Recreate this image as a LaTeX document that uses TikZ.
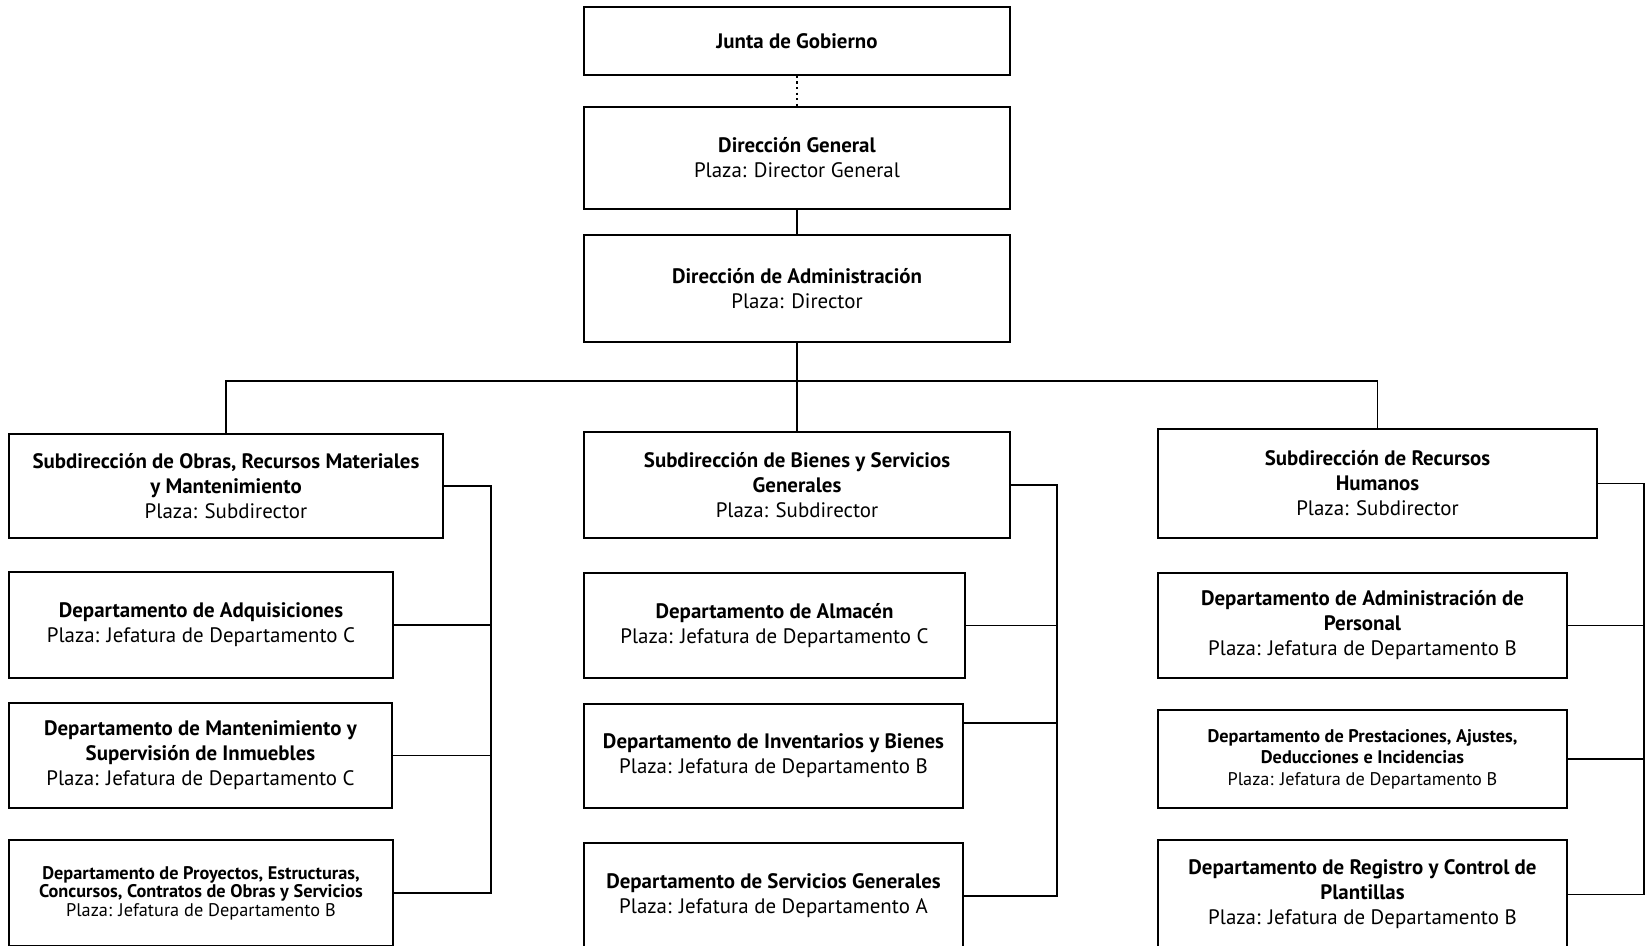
\documentclass[tikz,border=0pt]{standalone}
\usepackage{fontspec}
\setmainfont{PT Sans}
\usepackage{tikz}
\usetikzlibrary{calc}

\begin{document}
\begin{tikzpicture}[x=0.02cm, y=-0.02cm,
        unit/.style={draw, line width=1pt, inner sep=0pt, align=center,
                     font=\fontsize{11.9}{14.2}\selectfont},
        smallunit/.style={unit, font=\fontsize{10.4}{12.2}\selectfont},
        tinyunit/.style={unit, font=\fontsize{10.4}{10.5}\selectfont},
        link/.style={draw, line width=0.9pt}
      ]
        \useasboundingbox (0,0) rectangle (1649,946);
        \clip (0,0) rectangle (1649,946);
        % Top levels
        \node[unit, minimum width=8.52cm, minimum height=1.36cm] (junta) at (797,41)
          {\textbf{Junta de Gobierno}};
        \node[unit, minimum width=8.52cm, minimum height=2.04cm] (dg) at (797,158)
          {\textbf{Dirección General}\\Plaza: Director General};
        \node[unit, minimum width=8.52cm, minimum height=2.14cm] (adm) at (797,288.5)
          {\textbf{Dirección de Administración}\\Plaza: Director};
        % Subdirecciones
        \node[unit, minimum width=8.68cm, minimum height=2.08cm] (sub1) at (226,486)
          {\textbf{Subdirección de Obras, Recursos Materiales}\\\textbf{y Mantenimiento}\\Plaza: Subdirector};
        \node[unit, minimum width=8.52cm, minimum height=2.12cm] (sub2) at (797,485)
          {\textbf{Subdirección de Bienes y Servicios}\\\textbf{Generales}\\Plaza: Subdirector};
        \node[unit, minimum width=8.78cm, minimum height=2.18cm] (sub3) at (1377.5,483.5)
          {\textbf{Subdirección de Recursos}\\\textbf{Humanos}\\Plaza: Subdirector};
        % Departamentos (left)
        \node[unit, minimum width=7.68cm, minimum height=2.12cm] (adq) at (201,625)
          {\textbf{Departamento de Adquisiciones}\\Plaza: Jefatura de Departamento C};
        \node[unit, minimum width=7.66cm, minimum height=2.10cm] (mant) at (200.5,755.5)
          {\textbf{Departamento de Mantenimiento y}\\\textbf{Supervisión de Inmuebles}\\Plaza: Jefatura de Departamento C};
        \node[tinyunit, minimum width=7.68cm, minimum height=2.12cm] (proy) at (201,893)
          {\textbf{Departamento de Proyectos, Estructuras,}\\\textbf{Concursos, Contratos de Obras y Servicios}\\Plaza: Jefatura de Departamento B};
        % Departamentos (middle)
        \node[unit, minimum width=7.62cm, minimum height=2.10cm] (alm) at (774.5,625.5)
          {\textbf{Departamento de Almacén}\\Plaza: Jefatura de Departamento C};
        \node[unit, minimum width=7.58cm, minimum height=2.08cm] (inv) at (773.5,756)
          {\textbf{Departamento de Inventarios y Bienes}\\Plaza: Jefatura de Departamento B};
        \node[unit, minimum width=7.58cm, minimum height=2.12cm] (serv) at (773.5,896)
          {\textbf{Departamento de Servicios Generales}\\Plaza: Jefatura de Departamento A};
        % Departamentos (right)
        \node[unit, minimum width=8.18cm, minimum height=2.10cm] (per) at (1362.5,625.5)
          {\textbf{Departamento de Administración de}\\\textbf{Personal}\\Plaza: Jefatura de Departamento B};
        \node[smallunit, minimum width=8.18cm, minimum height=1.96cm] (pres) at (1362.5,759)
          {\textbf{Departamento de Prestaciones, Ajustes,}\\\textbf{Deducciones e Incidencias}\\Plaza: Jefatura de Departamento B};
        \node[unit, minimum width=8.18cm, minimum height=2.18cm] (reg) at (1362.5,894.5)
          {\textbf{Departamento de Registro y Control de}\\\textbf{Plantillas}\\Plaza: Jefatura de Departamento B};
        % Helper coordinates
        \coordinate (bus) at (797,381);
        \coordinate (spL) at (491,0);
        \coordinate (spM) at (1057,0);
        \coordinate (spR) at (1644,0);
        % Top connections
        \draw[link, line width=1.2pt, dotted] (junta) -- (dg);
        \draw[link] (dg) -- (adm);
        \draw[link] (adm) -- (bus);
        \draw[link] (sub1.north) |- (bus) -| (sub3.north);
        \draw[link] (bus) -- (sub2);
        % Left branch
        \draw[link] (sub1.east) -| (spL |- proy.east) -- (proy.east);
        \draw[link] (adq.east) -- (adq.east -| spL);
        \draw[link] (mant.east) -- (mant.east -| spL);
        % Middle branch
        \draw[link] (sub2.east) -| (spM |- serv.east) -- (serv.east);
        \draw[link] (alm.east) -- (alm.east -| spM);
        \coordinate (invc) at ($(inv.north east)+(0,20)$);
        \draw[link] (invc) -- (invc -| spM);
        % Right branch
        \draw[link] (sub3.east) -| (spR |- reg.east) -- (reg.east);
        \draw[link] (per.east) -- (per.east -| spR);
        \draw[link] (pres.east) -- (pres.east -| spR);
      \end{tikzpicture}
\end{document}
